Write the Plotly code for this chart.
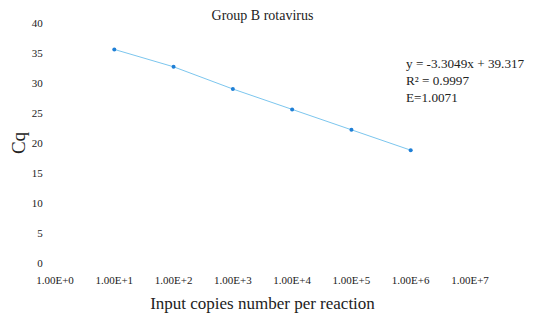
import plotly.graph_objects as go

# Data
copies = [1e1, 1e2, 1e3, 1e4, 1e5, 1e6]
cq = [35.6, 32.7, 29.0, 25.6, 22.2, 18.8]
x_tickvals = [1e0, 1e1, 1e2, 1e3, 1e4, 1e5, 1e6, 1e7]
x_ticktext = ["1.00E+0", "1.00E+1", "1.00E+2", "1.00E+3",
              "1.00E+4", "1.00E+5", "1.00E+6", "1.00E+7"]
y_tickvals = [0, 5, 10, 15, 20, 25, 30, 35, 40]
equation_lines = ["y = -3.3049x + 39.317", "R\u00b2 = 0.9997", "E=1.0071"]

FONT = "Liberation Serif, Times New Roman, serif"

# page body has an 8px default margin; compensate so the plot lands in place
OFF = 8

fig = go.Figure()
fig.add_trace(go.Scatter(
    x=copies, y=cq, mode="lines+markers",
    line=dict(color="#7cc6ee", width=1),
    marker=dict(color="#1f7fd6", size=4),
    showlegend=False,
))

fig.update_layout(
    width=549, height=315,
    margin=dict(l=55 - OFF, r=79 + OFF, t=23 - OFF, b=52 + OFF, autoexpand=False),
    paper_bgcolor="white", plot_bgcolor="white",
    font=dict(family=FONT, color="#222222"),
    title=dict(text="Group B rotavirus", x=0.5, xref="paper",
               y=1 - (15 - OFF) / 315, yanchor="middle",
               font=dict(family=FONT, size=14, color="#222222")),
    xaxis=dict(
        type="log", range=[0, 7],
        tickvals=x_tickvals, ticktext=x_ticktext,
        tickfont=dict(family=FONT, size=11, color="#222222"),
        ticks="outside", ticklen=7, tickcolor="rgba(0,0,0,0)",
        showgrid=False, zeroline=False, showline=False,
        title=dict(text="Input copies number per reaction",
                   font=dict(family=FONT, size=17, color="#222222"),
                   standoff=11),
        automargin=False,
    ),
    yaxis=dict(
        range=[0, 40], tickvals=y_tickvals,
        tickfont=dict(family=FONT, size=11, color="#222222"),
        ticks="outside", ticklen=9, tickcolor="rgba(0,0,0,0)",
        showgrid=False, zeroline=False, showline=False,
        title=dict(text="Cq",
                   font=dict(family=FONT, size=19, color="#222222"),
                   standoff=5),
        automargin=False,
    ),
)

fig.add_annotation(
    text="<br>".join(equation_lines),
    xref="paper", yref="paper",
    x=(404 - 55) / 415, y=(263.3 - 80) / 240.6,
    xanchor="left", yanchor="middle", align="left",
    showarrow=False,
    font=dict(family=FONT, size=13.2, color="#222222"),
)

fig.write_html("out.html")
